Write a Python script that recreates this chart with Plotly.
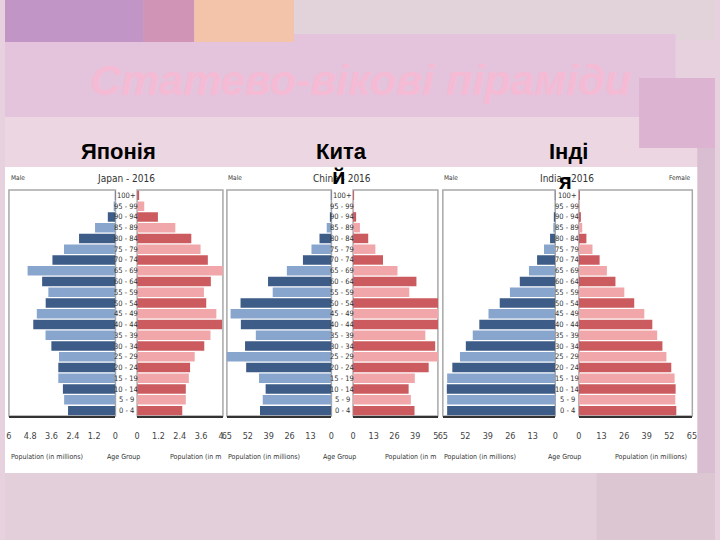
import plotly.graph_objects as go

W, H = 720, 540

AGE_GROUPS = ['0 - 4', '5 - 9', '10 - 14', '15 - 19', '20 - 24', '25 - 29', '30 - 34',
              '35 - 39', '40 - 44', '45 - 49', '50 - 54', '55 - 59', '60 - 64', '65 - 69',
              '70 - 74', '75 - 79', '80 - 84', '85 - 89', '90 - 94', '95 - 99', '100+']

# population in millions, from 0-4 upwards
JAPAN_MALE = [2.67, 2.89, 2.96, 3.22, 3.22, 3.18, 3.61, 3.94, 4.63, 4.43, 3.93,
              3.78, 4.13, 4.95, 3.55, 2.9, 2.05, 1.15, 0.43, 0.1, 0.02]
JAPAN_FEMALE = [2.54, 2.74, 2.74, 2.91, 2.98, 3.24, 3.78, 4.13, 4.78, 4.46, 3.89,
                3.76, 4.15, 5.1, 3.98, 3.57, 3.05, 2.15, 1.17, 0.4, 0.06]
CHINA_MALE = [44.4, 42.7, 40.9, 45.0, 53.0, 65.4, 53.7, 47.0, 56.3, 62.7, 56.5,
              36.5, 39.4, 27.7, 17.7, 12.4, 7.4, 2.9, 0.6, 0.2, 0.05]
CHINA_FEMALE = [38.6, 36.3, 34.9, 38.8, 47.5, 60.0, 51.6, 45.4, 56.0, 60.5, 55.0,
                35.3, 39.8, 27.9, 18.8, 14.0, 9.5, 4.3, 1.9, 0.4, 0.1]
INDIA_MALE = [62.5, 62.5, 62.7, 62.5, 59.5, 55.1, 51.7, 47.7, 43.9, 38.6, 32.1,
              26.2, 20.5, 15.2, 10.5, 6.5, 3.0, 1.1, 0.5, 0.2, 0.1]
INDIA_FEMALE = [56.0, 55.4, 55.6, 55.0, 53.1, 50.3, 48.0, 45.0, 42.2, 37.6, 31.8,
                26.1, 21.0, 16.1, 11.9, 7.8, 4.3, 1.9, 0.8, 0.3, 0.1]

JAPAN_TICKS = [0, 1.2, 2.4, 3.6, 4.8, 6]
BIG_TICKS = [0, 13, 26, 39, 52, 65]

SLIDE_TITLE = 'Статево-вікові піраміди'
COUNTRY_LABELS = [('Японія', ''), ('Кита', 'й'), ('Інді', 'я')]

MALE_COLORS = ['#3d5c87', '#88a6cd']
FEMALE_COLORS = ['#cc5b5f', '#f1a7aa']
SMALL_FONT = 'Liberation Sans Narrow, DejaVu Sans Condensed, Arial Narrow, Roboto, sans-serif'
BIG_FONT = 'Liberation Sans, Arial, sans-serif'


def px(x):
    return x / W


def py(y):
    return 1 - y / H


def label(x, y, text, size, family=SMALL_FONT, color='#333', xanchor='center', **font):
    return dict(x=px(x), y=py(y), xref='paper', yref='paper', text=text, showarrow=False,
                xanchor=xanchor, yanchor='middle',
                font=dict(family=family, size=size, color=color, **font))


# panel geometry in pixels
panels = [
    dict(name='Japan - 2016', male=JAPAN_MALE, female=JAPAN_FEMALE, ticks=JAPAN_TICKS,
         mx=(4, 112), fx=(134, 221), fmax=4.83, fticks=['0', '1.2', '2.4', '3.6', '4.'],
         mid=123, left=4),
    dict(name='China - 2016', male=CHINA_MALE, female=CHINA_FEMALE, ticks=BIG_TICKS,
         mx=(225, 331), fx=(353, 439), fmax=53.3, fticks=['0', '13', '26', '39', '5'],
         mid=342, left=224),
    dict(name='India - 2016', male=INDIA_MALE, female=INDIA_FEMALE, ticks=BIG_TICKS,
         mx=(444, 558), fx=(582, 697), fmax=65.2, fticks=['0', '13', '26', '39', '52', '65'],
         mid=570, left=443),
]

Y_TOP, Y_BOT = 190, 416

fig = go.Figure()
shapes = []
annotations = []
layout_axes = {}

# slide background pieces
bg = [
    (0, 0, 720, 540, '#e7d1de'),
    (293, 0, 720, 40, '#e2d3da'),
    (0, 34, 680, 117, '#e4c4dc'),
    (0, 117, 720, 167, '#ebd6e1'),
    (0, 473, 720, 540, '#e3cfd9'),
    (600, 473, 720, 540, '#dcc6d2'),
    (643, 78, 720, 148, '#dcb4d2'),
    (702, 148, 720, 473, '#d9bdd0'),
    (0, 0, 140, 42, '#c196c6'),
    (140, 0, 192, 42, '#cf94b6'),
    (192, 0, 293, 42, '#f3c4aa'),
    (0, 167, 702, 473, 'white'),
]
for x0, y0, x1, y1, c in bg:
    shapes.append(dict(type='rect', xref='paper', yref='paper', layer='below',
                       x0=px(x0), x1=px(x1), y0=py(y1), y1=py(y0),
                       fillcolor=c, line=dict(width=0)))

for i, p in enumerate(panels):
    mi, fi = 2 * i + 1, 2 * i + 2
    for idx, side, vals, colors in [(mi, 'm', p['male'], MALE_COLORS),
                                    (fi, 'f', p['female'], FEMALE_COLORS)]:
        sfx = '' if idx == 1 else str(idx)
        fig.add_trace(go.Bar(
            y=AGE_GROUPS, x=vals, orientation='h',
            marker=dict(color=[colors[k % 2] for k in range(len(vals))], line=dict(width=0)),
            xaxis='x' + sfx, yaxis='y' + sfx, showlegend=False,
        ))
        if side == 'm':
            dom = p['mx']
            rng = [p['ticks'][-1], 0]
            tv = p['ticks']
            tt = [f'{t:g}' for t in tv]
        else:
            dom = p['fx']
            rng = [0, p['fmax']]
            tt = p['fticks']
            tv = p['ticks'][:len(tt)]
        layout_axes['xaxis' + sfx] = dict(
            domain=[px(dom[0]), px(dom[1])], range=rng, anchor='y' + sfx,
            tickvals=tv, ticktext=tt, showgrid=False, zeroline=False,
            showline=True, linecolor='#333', linewidth=1.5,
            ticks='outside', ticklen=10, tickcolor='rgba(0,0,0,0)',
            tickfont=dict(family=SMALL_FONT, size=9, color='#444'), fixedrange=True,
        )
        layout_axes['yaxis' + sfx] = dict(
            domain=[py(Y_BOT), py(Y_TOP)], anchor='x' + sfx, type='category',
            categoryorder='array', categoryarray=AGE_GROUPS, range=[-0.5, 20.5],
            showticklabels=False, showgrid=False, zeroline=False, showline=False,
            fixedrange=True,
        )
        shapes.append(dict(type='rect', xref='x' + sfx + ' domain', yref='y' + sfx + ' domain',
                           x0=0, x1=1, y0=0, y1=1, layer='below',
                           line=dict(color='#a8a8a8', width=1.5)))

    ysfx = '' if mi == 1 else str(mi)
    for age in AGE_GROUPS:
        annotations.append(dict(x=px(p['mid']), y=age, xref='paper', yref='y' + ysfx,
                                text=age, showarrow=False, xanchor='center', yanchor='middle',
                                font=dict(family=SMALL_FONT, size=7.5, color='#333')))

    annotations.append(label(p['mid'], 178, p['name'], 10))
    annotations.append(label(p['left'], 178, 'Male', 6.5, xanchor='left'))
    annotations.append(label(p['left'], 457, 'Population (in millions)', 7, xanchor='left'))
    annotations.append(label(p['mid'] - 3, 457, 'Age Group', 7))
    right_txt = 'Population (in millions)' if i == 2 else 'Population (in m'
    right_x = 694 if i == 2 else p['fx'][1]
    annotations.append(label(right_x, 457, right_txt, 7, xanchor='right'))

annotations.append(label(698, 178, 'Female', 6.5, xanchor='right'))

# slide title and country labels
annotations.append(label(361, 80, SLIDE_TITLE, 43, family=BIG_FONT, color='#f5bad4',
                         weight='bold', style='italic'))
label_pos = [(115, 151, None, None), (341, 151, 339, 177), (571, 151, 568, 181)]
for (first, second), (x1, y1, x2, y2) in zip(COUNTRY_LABELS, label_pos):
    annotations.append(label(x1, y1, first, 22, family=BIG_FONT, color='black', weight='bold'))
    if second:
        annotations.append(label(x2, y2, second, 22, family=BIG_FONT, color='black',
                                 weight='bold'))

fig.update_layout(
    width=W, height=H, margin=dict(l=0, r=0, t=0, b=0),
    paper_bgcolor='#e7d1de', plot_bgcolor='white',
    bargap=0.12, shapes=shapes, annotations=annotations, **layout_axes,
)

fig.write_html('out.html', config={'displayModeBar': False},
               post_script="document.body.style.margin='0';")
